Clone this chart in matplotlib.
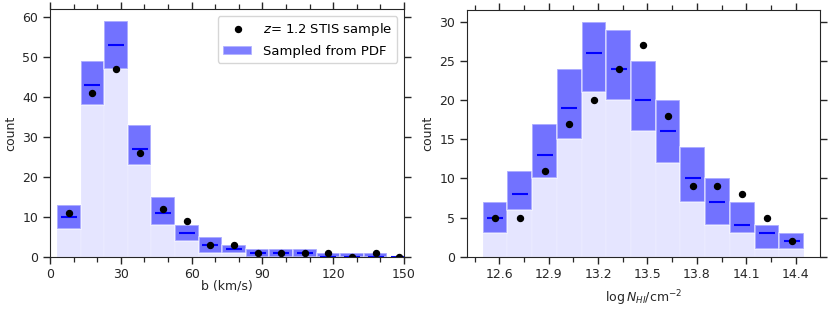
import numpy as np
import matplotlib
matplotlib.use("Agg")
import matplotlib.pyplot as plt
from matplotlib.ticker import MultipleLocator

# ── b distribution (left) ─────────────────────────────────
b_centers = [8, 18, 28, 38, 48, 58, 68, 78, 88, 98, 108, 118, 128, 138, 148]
b_obs = [11, 41, 47, 26, 12, 9, 3, 3, 1, 1, 1, 1, 0, 1, 0]
b_med = [10, 43, 53, 27, 11, 6, 3, 2, 1, 1, 1, 0, 0, 0, 0]
b_hi = [13, 49, 59, 33, 15, 8, 5, 3, 2, 2, 2, 1, 1, 1, 0]
b_lo = [7, 38, 47, 23, 8, 4, 1, 1, 0, 0, 0, 0, 0, 0, 0]
b_width = 10

# ── log N_HI distribution (right) ─────────────────────────
n_centers = [12.575, 12.725, 12.875, 13.025, 13.175, 13.325, 13.475,
             13.625, 13.775, 13.925, 14.075, 14.225, 14.375]
n_obs = [5, 5, 11, 17, 20, 24, 27, 18, 9, 9, 8, 5, 2]
n_med = [5, 8, 13, 19, 26, 24, 20, 16, 10, 7, 4, 3, 2]
n_hi = [7, 11, 17, 24, 30, 29, 25, 20, 14, 10, 7, 4, 3]
n_lo = [3, 6, 10, 15, 21, 20, 16, 12, 7, 4, 3, 1, 1]
n_width = 0.15

plt.rcParams["font.family"] = ["DejaVu Sans"]
plt.rcParams["font.size"] = 9

DARK = "#262626"


def draw_panel(ax, centers, obs, med, lo, hi, width):
    centers = np.asarray(centers)
    lo = np.asarray(lo)
    hi = np.asarray(hi)
    ax.bar(centers, hi, width=width, color="blue", alpha=0.1,
           edgecolor="white", linewidth=1.2)
    bars = ax.bar(centers, hi - lo, bottom=lo, width=width, color="blue",
                  alpha=0.5, edgecolor="white", linewidth=1.2,
                  label="Sampled from PDF")
    ax.plot(centers, med, ls="none", marker="_", color="blue", ms=11.5, mew=1.5)
    dots, = ax.plot(centers, obs, ls="none", marker="o", color="black", ms=4.3,
                    label=r"$z$= 1.2 STIS sample")
    ax.set_ylabel("count", color=DARK)
    ax.tick_params(which="both", direction="out", top=True, right=True,
                   colors=DARK, labelcolor=DARK)
    ax.tick_params(which="major", length=4.8, width=1)
    ax.tick_params(which="minor", length=3.4, width=0.9)
    for sp in ax.spines.values():
        sp.set_color(DARK)
    return dots, bars


fig = plt.figure(figsize=(8.3, 3.12), dpi=100)
ax1 = fig.add_axes([0.0602, 0.177, 0.4265, 0.793])
ax2 = fig.add_axes([0.5623, 0.177, 0.4257, 0.791])

dots, bars = draw_panel(ax1, b_centers, b_obs, b_med, b_lo, b_hi, b_width)
ax1.set_xlim(0, 150)
ax1.xaxis.set_major_locator(MultipleLocator(30))
ax1.xaxis.set_minor_locator(MultipleLocator(10))
ax1.yaxis.set_major_locator(MultipleLocator(10))
ax1.set_xlabel("b (km/s)", color=DARK, labelpad=-1)
ax1.legend([dots, bars], [dots.get_label(), "Sampled from PDF"],
           loc="upper right", fontsize=9.5, handlelength=2.2)

draw_panel(ax2, n_centers, n_obs, n_med, n_lo, n_hi, n_width)
ax2.xaxis.set_major_locator(MultipleLocator(0.3))
ax2.xaxis.set_minor_locator(MultipleLocator(0.15))
ax2.yaxis.set_major_locator(MultipleLocator(5))
ax2.set_xlabel(r"$\log N_{HI}/\mathrm{cm}^{-2}$", color=DARK, labelpad=5)

fig.savefig("out.png", dpi=100)
